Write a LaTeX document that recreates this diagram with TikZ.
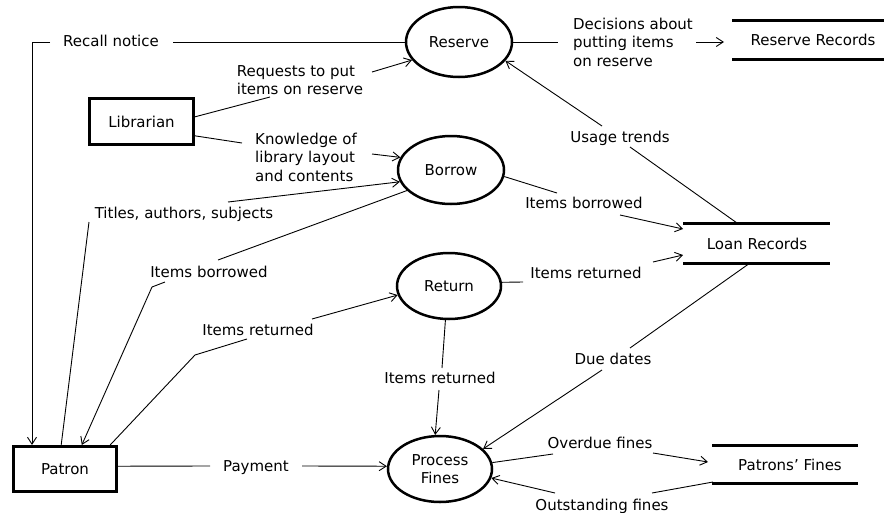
\documentclass[tikz,border=0pt]{standalone}
\usepackage{fontspec}
\setmainfont{DejaVu Sans}
\usetikzlibrary{shapes.geometric,arrows.meta,calc}
\begin{document}
\begin{tikzpicture}[x=1pt,y=-1pt,
  every node/.style={font=\fontsize{15}{18.5}\selectfont},
  proc/.style={ellipse,draw,line width=2.5pt,inner sep=0pt,align=center},
  ent/.style={rectangle,draw,line width=3pt,inner sep=0pt},
  lbl/.style={inner sep=0pt,text height=11pt,text depth=1pt},
  mlbl/.style={inner sep=0pt,align=left},
  wire/.style={line width=0.9pt},
  flow/.style={wire,-{Straight Barb[length=7pt,width=9pt]}},
  storeline/.style={line width=3pt}
]
\useasboundingbox[fill=white] (0,0) rectangle (884,512);

% processes
\node[proc,minimum width=106pt,minimum height=70pt] (reserve) at (459,42) {Reserve};
\node[proc,minimum width=106pt,minimum height=68pt] (borrow) at (451,170) {Borrow};
\node[proc,minimum width=104pt,minimum height=66pt] (return) at (449,286) {Return};
\node[proc,minimum width=104pt,minimum height=66pt] (fines) at (440,469) {Process\\Fines};

% external entities
\node[ent,minimum width=104pt,minimum height=46pt] (librarian) at (141.5,121.5) {Librarian};
\node[ent,minimum width=103pt,minimum height=45pt] (patron) at (65,469) {Patron};

% data stores
\node[lbl] (resrec) at (813,40) {Reserve Records};
\node[lbl] (loanrec) at (757,244) {Loan Records};
\node[lbl] (patfines) at (790,465) {Patrons’ Fines};
\draw[storeline] (732,20) -- (884,20);
\draw[storeline] (732,59) -- (884,59);
\draw[storeline] (683,223) -- (830,223);
\draw[storeline] (683,263) -- (830,263);
\draw[storeline] (712,445) -- (858,445);
\draw[storeline] (712,483) -- (858,483);

% flow labels
\node[lbl] (recall) at (111,41) {Recall notice};
\node[mlbl] (requests) at (300,80) {Requests to put\\items on reserve};
\node[mlbl] (knowledge) at (306,157) {Knowledge of\\library layout\\and contents};
\node[lbl] (titles) at (184,213) {Titles, authors, subjects};
\node[lbl] (borrowedL) at (209,272) {Items borrowed};
\node[lbl] (returnedL) at (258,330) {Items returned};
\node[lbl] (payment) at (256,466) {Payment};
\node[mlbl] (decisions) at (633,42) {Decisions about\\putting items\\on reserve};
\node[lbl] (usage) at (620,137) {Usage trends};
\node[lbl] (borrowedR) at (584,203) {Items borrowed};
\node[lbl] (returnedR) at (586,273) {Items returned};
\node[lbl] (returnedM) at (440,378) {Items returned};
\node[lbl] (due) at (613,359) {Due dates};
\node[lbl] (overdue) at (600,443) {Overdue fines};
\node[lbl] (outstanding) at (602,505) {Outstanding fines};

% free ends of the flows, beside their labels
\coordinate (rcA) at (173,42);
\coordinate (rcB) at (50,42);
\coordinate (rcC) at (32,42);
\coordinate (rqA) at (270,97);
\coordinate (rqB) at (372,72);
\coordinate (knA) at (242,143);
\coordinate (knB) at (372,154);
\coordinate (tiA) at (89,222);
\coordinate (tiB) at (228,202);
\coordinate (ibA) at (218,260);
\coordinate (ibB) at (165,282);
\coordinate (ibC) at (152,287);
\coordinate (irA) at (195,355);
\coordinate (irB) at (247,339);
\coordinate (irC) at (312,319);
\coordinate (pyA) at (210,466);
\coordinate (pyB) at (302,466);
\coordinate (dcA) at (558,42);
\coordinate (dcB) at (696,42);
\coordinate (dcC) at (724,42);
\coordinate (usA) at (737,223);
\coordinate (usB) at (630,147);
\coordinate (usC) at (602,126);
\coordinate (brA) at (557,193);
\coordinate (brB) at (620,215);
\coordinate (brC) at (683,229);
\coordinate (rrA) at (523,282);
\coordinate (rrB) at (653,262);
\coordinate (rrC) at (683,255);
\coordinate (rmA) at (442,368);
\coordinate (rmB) at (439,390);
\coordinate (ddA) at (750,263);
\coordinate (ddB) at (630,348);
\coordinate (ddC) at (602,370);
\coordinate (odA) at (553,454);
\coordinate (odB) at (653,453);
\coordinate (odC) at (708,462);
\coordinate (osA) at (713,482);
\coordinate (osB) at (652,493);
\coordinate (osC) at (555,493);

% flows
\draw[wire] (reserve.west) -- (rcA);
\draw[flow] (rcB) -- (rcC) -- (rcC |- patron.north);

\draw[wire] (librarian.5) -- (rqA);
\draw[flow] (rqB) -- (reserve.201);

\draw[wire] (librarian.-15) -- (knA);
\draw[flow] (knB) -- (borrow.166);

\draw[wire] (patron.99) -- (tiA);
\draw[flow] (tiB) -- (borrow.193);

\draw[wire] (borrow.205) -- (ibA);
\draw[flow] (ibB) -- (ibC) -- (patron.55);

\draw[wire] (patron.28) -- (irA) -- (irB);
\draw[flow] (irC) -- (return.190);

\draw[wire] (patron.3) -- (pyA);
\draw[flow] (pyB) -- (fines.177);

\draw[wire] (reserve.east) -- (dcA);
\draw[flow] (dcB) -- (dcC);

\draw[wire] (usA) -- (usB);
\draw[flow] (usC) -- (reserve.-22);

\draw[wire] (borrow.-7) -- (brA);
\draw[flow] (brB) -- (brC);

\draw[wire] (return.4) -- (rrA);
\draw[flow] (rrB) -- (rrC);

\draw[wire] (return.264) -- (rmA);
\draw[flow] (rmB) -- (fines.98);

\draw[wire] (ddA) -- (ddB);
\draw[flow] (ddC) -- (fines.25);

\draw[wire] (fines.7) -- (odA);
\draw[flow] (odB) -- (odC);

\draw[wire] (osA) -- (osB);
\draw[flow] (osC) -- (fines.-10);
\end{tikzpicture}
\end{document}
